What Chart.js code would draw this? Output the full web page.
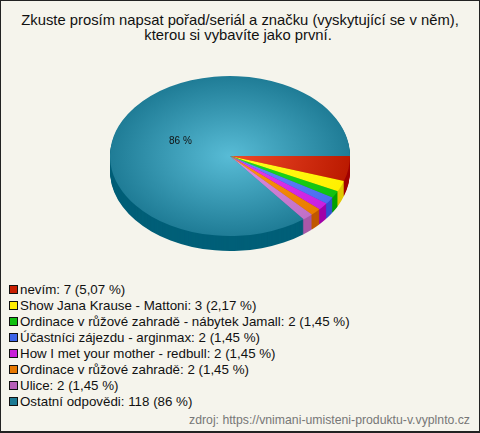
<!DOCTYPE html>
<html lang="cs">
<head>
  <meta charset="UTF-8">
  <title>Zkuste prosím napsat pořad/seriál a značku</title>
  <script src="https://cdn.jsdelivr.net/npm/chart.js"></script>
  <style>
    html, body { margin: 0; padding: 0; }
    body {
      width: 480px;
      height: 433px;
      overflow: hidden;
      font-family: "Liberation Sans", Arial, sans-serif;
    }
    #card {
      position: absolute;
      left: 0;
      top: 0;
      width: 480px;
      height: 433px;
      box-sizing: border-box;
      background: #f5f4ec;
      border: 1px solid #222;
      border-width: 1px 1px 2px 1px;
    }
    #pie { position: absolute; left: 109px; top: 35px; }
    #chartTitle {
      position: absolute;
      left: 0;
      top: 12px;
      width: 478px;
      text-align: center;
      font-size: 14.8px;
      line-height: 15px;
      color: #111;
    }
    #chartTitle div + div { margin-right: 4px; }
    #legend {
      position: absolute;
      left: 8px;
      top: 281px;
      margin: 0;
      padding: 0;
      list-style: none;
      font-size: 13.33px;
      line-height: 16px;
      color: #111;
    }
    #legend li { white-space: nowrap; height: 16px; }
    #legend span {
      display: inline-block;
      width: 7px;
      height: 7px;
      border: 1px solid #111;
      margin-right: 2px;
    }
    #source {
      position: absolute;
      right: 9px;
      top: 412px;
      font-size: 12.25px;
      color: #777;
    }
  </style>
</head>
<body>
<div id="card">
  <div id="chartTitle"></div>
  <canvas id="pie" width="240" height="240"></canvas>
  <ul id="legend"></ul>
  <div id="source">zdroj: https://vnimani-umisteni-produktu-v.vyplnto.cz</div>
</div>

<script>
  const titleLines = [
    "Zkuste prosím napsat pořad/seriál a značku (vyskytující se v něm),",
    "kterou si vybavíte jako první."
  ];
  const categories = [
    "nevím", "Show Jana Krause - Mattoni", "Ordinace v růžové zahradě - nábytek Jamall",
    "Účastníci zájezdu - arginmax", "How I met your mother - redbull",
    "Ordinace v růžové zahradě", "Ulice", "Ostatní odpovědi"
  ];
  const values = [7, 3, 2, 2, 2, 2, 2, 118];
  const shares = ["5,07 %", "2,17 %", "1,45 %", "1,45 %", "1,45 %", "1,45 %", "1,45 %", "86 %"];
  const innerColors = ["#f04a2a", "#ffff20", "#20e020", "#6a8cff", "#e840f0", "#ff9a10", "#e090e0", "#58bcd6"];
  const outerColors = ["#bb1a00", "#fff000", "#10c010", "#4a6cf0", "#c820e0", "#e87c00", "#c070c8", "#1f7c96"];
  const wallColors = ["#a00000", "#e0c800", "#00a000", "#3050d0", "#a000a8", "#c05800", "#a858a8", "#005f78"];
  const swatchColors = ["#c81e00", "#ffec00", "#10c010", "#3c64e8", "#c820d8", "#e87800", "#b860b8", "#1c7a94"];

  const squash = 2 / 3;
  const wallDepth = 15;

  function squashAround(ctx, arc) {
    ctx.translate(arc.x, arc.y);
    ctx.scale(1, squash);
    ctx.translate(-arc.x, -arc.y);
  }

  const pie3d = {
    id: "pie3d",
    beforeDatasetsDraw(chart) {
      const ctx = chart.ctx;
      const arcs = chart.getDatasetMeta(0).data;
      for (let dy = wallDepth; dy > 0; dy--) {
        arcs.forEach((arc, i) => {
          ctx.save();
          ctx.translate(0, dy);
          squashAround(ctx, arc);
          ctx.fillStyle = wallColors[i];
          ctx.beginPath();
          ctx.moveTo(arc.x, arc.y);
          ctx.arc(arc.x, arc.y, arc.outerRadius, arc.startAngle, arc.endAngle);
          ctx.closePath();
          ctx.fill();
          ctx.restore();
        });
      }
      ctx.save();
      squashAround(ctx, arcs[0]);
    },
    afterDatasetsDraw(chart) {
      const ctx = chart.ctx;
      ctx.restore();
      // only the big slice carries a label
      const big = chart.getDatasetMeta(0).data[7];
      const mid = (big.startAngle + big.endAngle) / 2;
      const r = big.outerRadius * 0.46;
      ctx.save();
      ctx.font = "10px 'Liberation Sans', Arial, sans-serif";
      ctx.fillStyle = "#111";
      ctx.textAlign = "center";
      ctx.textBaseline = "middle";
      ctx.fillText(shares[7], big.x + Math.cos(mid) * r, big.y + Math.sin(mid) * r * squash + 1);
      ctx.restore();
    }
  };

  function sliceGradient(context) {
    const arc = context.element;
    const area = context.chart.chartArea;
    if (!arc || !area) return outerColors[context.dataIndex];
    const cx = (area.left + area.right) / 2;
    const cy = (area.top + area.bottom) / 2;
    const r = Math.min(area.right - area.left, area.bottom - area.top) / 2;
    const g = context.chart.ctx.createRadialGradient(cx, cy, 0, cx, cy, r);
    g.addColorStop(0, innerColors[context.dataIndex]);
    g.addColorStop(1, outerColors[context.dataIndex]);
    return g;
  }

  new Chart(document.getElementById("pie"), {
    type: "pie",
    data: {
      labels: categories,
      datasets: [{ data: values, backgroundColor: sliceGradient, borderWidth: 0 }]
    },
    options: {
      responsive: false,
      animation: false,
      events: [],
      rotation: 90,
      plugins: {
        legend: { display: false },
        tooltip: { enabled: false }
      }
    },
    plugins: [pie3d]
  });

  const chartTitle = document.getElementById("chartTitle");
  titleLines.forEach(line => {
    const div = document.createElement("div");
    div.textContent = line;
    chartTitle.appendChild(div);
  });

  const legend = document.getElementById("legend");
  categories.forEach((name, i) => {
    const li = document.createElement("li");
    const box = document.createElement("span");
    box.style.background = swatchColors[i];
    li.appendChild(box);
    li.appendChild(document.createTextNode(`${name}: ${values[i]} (${shares[i]})`));
    legend.appendChild(li);
  });
</script>
</body>
</html>
